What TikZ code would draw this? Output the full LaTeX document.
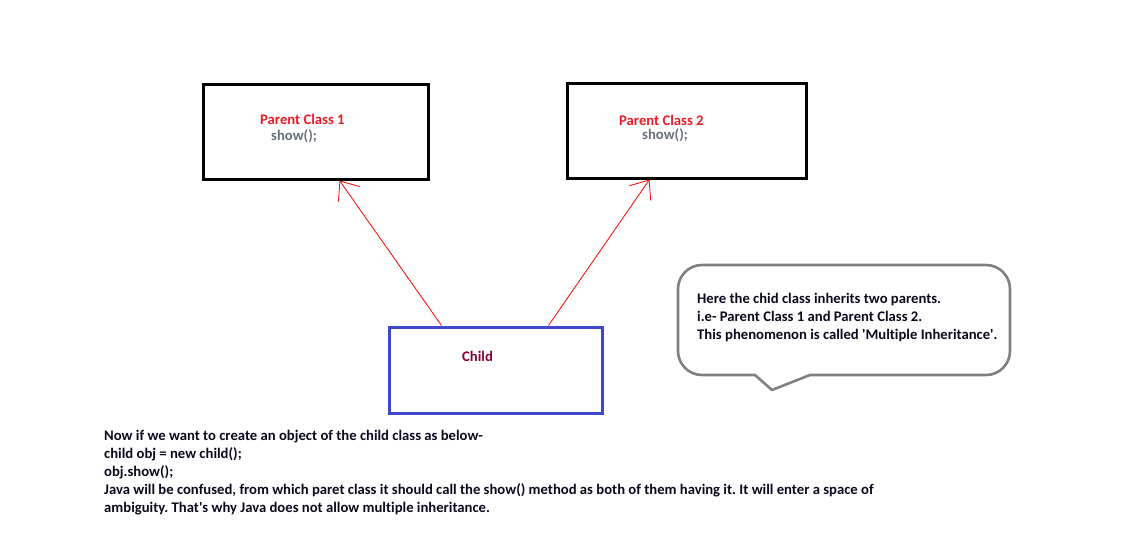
\documentclass[tikz,border=0pt]{standalone}
\usepackage{fontspec}
\setmainfont{Carlito}[Ligatures={NoCommon}]
\usetikzlibrary{arrows.meta}
\frenchspacing
\definecolor{boxred}{RGB}{237,28,36}
\definecolor{showgray}{RGB}{105,112,125}
\definecolor{childcol}{RGB}{136,0,60}
\definecolor{childblue}{RGB}{63,72,204}
\definecolor{callgray}{RGB}{128,128,128}
\definecolor{txt}{RGB}{10,10,30}
\tikzset{
  classbox/.style={draw=black,line width=3pt,inner sep=0pt},
  childbox/.style={draw=childblue,line width=3pt,inner sep=0pt},
  lbl/.style={font=\fontsize{14.67}{18}\selectfont\bfseries,inner sep=0pt,anchor=base west},
  inh/.style={draw=red,line width=0.8pt,-{Straight Barb[length=16pt,width=26pt,line width=0.8pt]}},
  callout/.style={draw=callgray,line width=2.6pt,line join=round}
}
\begin{document}
\begin{tikzpicture}[x=1pt,y=-1pt]
\useasboundingbox[fill=white] (0,0) rectangle (1137,551);
% class boxes
\node[classbox,minimum width=225pt,minimum height=95pt] (p1) at (315.5,131.5) {};
\node[classbox,minimum width=239pt,minimum height=95pt] (p2) at (686.5,130.5) {};
\node[childbox,minimum width=213pt,minimum height=86pt] (child) at (495.5,370) {};
\node[lbl,text=boxred] (p1t) at (260,124) {Parent Class 1};
\node[lbl,text=showgray] (p1s) at (271,140) {show();};
\node[lbl,text=boxred] (p2t) at (619,125) {Parent Class 2};
\node[lbl,text=showgray] (p2s) at (642,139.5) {show();};
\node[lbl,text=childcol] (ct) at (462,361) {Child};
% inheritance arrows
\draw[inh] ([xshift=54pt]child.north west) -- ([xshift=138pt]p1.south west);
\draw[inh] ([xshift=161pt]child.north west) -- ([xshift=84pt]p2.south west);
% callout
\draw[callout] (772,390) -- (810,375) [rounded corners=24] -- (1010,375) -- (1010,265) -- (678,265) -- (678,375) [sharp corners] -- (755,375) -- cycle;
\node[lbl,text=txt] (n1) at (697,303) {Here the chid class inherits two parents.};
\node[lbl,text=txt] (n2) at (697,321) {i.e- Parent Class 1 and Parent Class 2.};
\node[lbl,text=txt] (n3) at (697,339) {This phenomenon is called \textquotesingle Multiple Inheritance\textquotesingle.};
% bottom text
\node[lbl,text=txt] (b1) at (104,440) {Now if we want to create an object of the child class as below-};
\node[lbl,text=txt] (b2) at (104,458) {child obj = new child();};
\node[lbl,text=txt] (b3) at (104,476) {obj.show();};
\node[lbl,text=txt] (b4) at (104,494) {Java will be confused, from which paret class it should call the show() method as both of them having it. It will enter a space of};
\node[lbl,text=txt] (b5) at (104,512) {ambiguity. That\textquotesingle s why Java does not allow multiple inheritance.};
\end{tikzpicture}
\end{document}
